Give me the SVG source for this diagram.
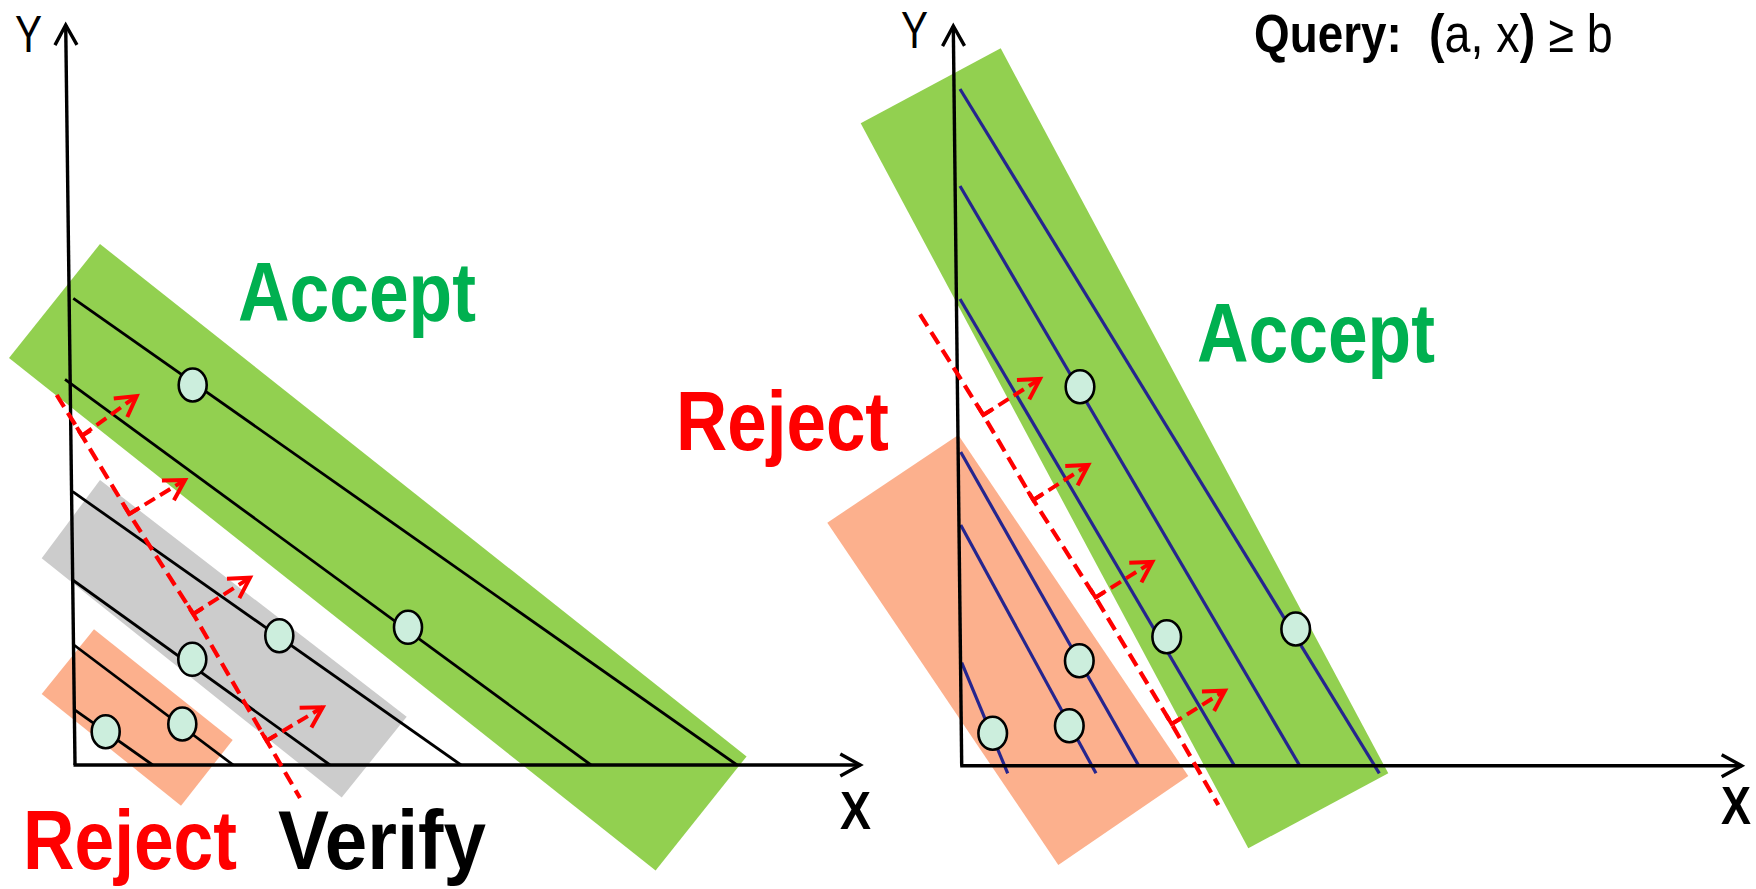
<svg xmlns="http://www.w3.org/2000/svg" width="1756" height="889" viewBox="0 0 1756 889">
  <style>
    .band-green { fill: #92D050; }
    .band-orange { fill: #FCB08D; }
    .band-gray { fill: #CCCCCC; }
    .ln { stroke: #000; stroke-width: 2.8; fill: none; }
    .bl { stroke: #25258E; stroke-width: 3.2; fill: none; }
    .axis { stroke: #000; stroke-width: 3.4; fill: none; marker-end: url(#axhead); }
    .pt { fill: #CCEEDD; stroke: #000; stroke-width: 2.6; }
    .dash { stroke: #FF0000; stroke-width: 4.2; fill: none; stroke-dasharray: 14 7; }
    .arr { stroke: #FF0000; stroke-width: 4; fill: none; stroke-dasharray: 12 6; marker-end: url(#redhead); }
    .corner { stroke: #FF0000; stroke-width: 4; fill: none; }
    .t { font-family: "Liberation Sans Narrow", "Liberation Sans", Arial, sans-serif; }
    .big { font-size: 84px; font-weight: bold; }
    .lab { font-size: 52px; }
  </style>
  <defs>
    <marker id="axhead" markerUnits="userSpaceOnUse" markerWidth="40" markerHeight="40" viewBox="-30 -20 40 40" refX="0" refY="0" orient="auto">
      <path d="M-20,-11 L0,0 L-20,11" fill="none" stroke="#000" stroke-width="3.4"/>
    </marker>
    <marker id="redhead" markerUnits="userSpaceOnUse" markerWidth="40" markerHeight="40" viewBox="-30 -20 40 40" refX="0" refY="0" orient="auto">
      <path d="M-20,-11.5 L0,0 L-20,11.5" fill="none" stroke="#FF0000" stroke-width="4" stroke-dasharray="none"/>
    </marker>
  </defs>

  <!-- ===== Left panel ===== -->
  <g id="left-accept-band"><polygon class="band-green" points="100,244 746.6,756.4 655.6,870.4 9,358"/></g>
  <g id="left-verify-band"><polygon class="band-gray" points="100,480 406.7,716.7 341.7,797.5 41.7,558.3"/></g>
  <g id="left-reject-band"><polygon class="band-orange" points="94,629.3 232.7,740 181,805.7 41.7,694"/></g>

  <g id="left-lines">
    <line class="ln" x1="73.3" y1="298.3" x2="737" y2="765"/>
    <line class="ln" x1="65" y1="379.3" x2="591" y2="765"/>
    <line class="ln" x1="72.7" y1="491.7" x2="461" y2="765"/>
    <line class="ln" x1="72.7" y1="580" x2="330" y2="765"/>
    <line class="ln" x1="74" y1="645" x2="233.3" y2="765"/>
    <line class="ln" x1="74" y1="709.3" x2="152.7" y2="765"/>
  </g>

  <g id="left-axes">
    <line class="axis" x1="75" y1="765" x2="65.7" y2="25"/>
    <line class="axis" x1="73.5" y1="765" x2="860.3" y2="765"/>
  </g>

  <g id="left-points">
    <ellipse class="pt" cx="192.7" cy="385" rx="14" ry="16.5"/>
    <ellipse class="pt" cx="408" cy="627.3" rx="14" ry="16.5"/>
    <ellipse class="pt" cx="279.3" cy="635.7" rx="14" ry="16.5"/>
    <ellipse class="pt" cx="192.3" cy="659.3" rx="14" ry="16.5"/>
    <ellipse class="pt" cx="182.3" cy="724" rx="14" ry="16.5"/>
    <ellipse class="pt" cx="105.7" cy="731.7" rx="14" ry="16.5"/>
  </g>

  <g id="left-connectors">
    <polyline class="dash" points="56.7,395 82,435.7 129.3,514 193.3,614 266.7,740.7 300,798"/>
    <path class="corner" d="M76.8,427.2 L82,435.7 L90.6,430.5"/>
    <line class="arr" x1="82" y1="435.7" x2="136.7" y2="396"/>
    <path class="corner" d="M124.1,505.5 L129.3,514 L137.9,508.8"/>
    <line class="arr" x1="129.3" y1="514" x2="185" y2="480"/>
    <path class="corner" d="M188.1,605.5 L193.3,614 L201.9,608.8"/>
    <line class="arr" x1="193.3" y1="614" x2="250" y2="577.7"/>
    <path class="corner" d="M261.5,732.2 L266.7,740.7 L275.3,735.5"/>
    <line class="arr" x1="266.7" y1="740.7" x2="322.7" y2="707.3"/>
  </g>

  <g id="left-labels" class="t">
    <text class="lab" x="15" y="52.3" textLength="27" lengthAdjust="spacingAndGlyphs">Y</text>
    <text x="840" y="829" font-size="54" font-weight="bold" textLength="31" lengthAdjust="spacingAndGlyphs">X</text>
    <text class="big" x="238" y="321" fill="#00B050" font-size="85" textLength="238" lengthAdjust="spacingAndGlyphs">Accept</text>
    <text class="big" x="23" y="869.3" fill="#FF0000" textLength="214" lengthAdjust="spacingAndGlyphs">Reject</text>
    <text class="big" x="278" y="869.3" fill="#000" textLength="208" lengthAdjust="spacingAndGlyphs">Verify</text>
  </g>

  <!-- ===== Right panel ===== -->
  <g id="right-accept-band"><polygon class="band-green" points="1000.7,48.3 1388.3,773.3 1248.3,848.3 860.7,123.3"/></g>
  <g id="right-reject-band"><polygon class="band-orange" points="958.3,435 1188.3,776 1058.3,865 827.3,522.7"/></g>

  <g id="right-lines">
    <line class="bl" x1="960" y1="89" x2="1379.3" y2="773.3"/>
    <line class="bl" x1="960" y1="186" x2="1299.3" y2="765"/>
    <line class="bl" x1="960" y1="299" x2="1234" y2="765"/>
    <line class="bl" x1="960.7" y1="452" x2="1138.3" y2="765"/>
    <line class="bl" x1="960.7" y1="525" x2="1096" y2="773.3"/>
    <line class="bl" x1="961.7" y1="662.7" x2="1007.7" y2="773.3"/>
  </g>

  <g id="right-axes">
    <line class="axis" x1="961.7" y1="765.7" x2="953.3" y2="26"/>
    <line class="axis" x1="960.2" y1="765.7" x2="1741.7" y2="765.7"/>
  </g>

  <g id="right-points">
    <ellipse class="pt" cx="1080" cy="386.7" rx="14.3" ry="16.5"/>
    <ellipse class="pt" cx="1166.7" cy="636.7" rx="14.3" ry="16.5"/>
    <ellipse class="pt" cx="1295.7" cy="629" rx="14.3" ry="16.5"/>
    <ellipse class="pt" cx="1079.3" cy="660.7" rx="14.3" ry="16.5"/>
    <ellipse class="pt" cx="1069.3" cy="725.7" rx="14.3" ry="16.5"/>
    <ellipse class="pt" cx="992.7" cy="733.3" rx="14.3" ry="16.5"/>
  </g>

  <g id="right-connectors">
    <polyline class="dash" points="920,314.3 983.3,415 1033.3,500 1095.5,597.5 1171.7,724 1218.3,805"/>
    <path class="corner" d="M978.1,406.5 L983.3,415 L991.8,409.8"/>
    <line class="arr" x1="983.3" y1="415" x2="1040" y2="379"/>
    <path class="corner" d="M1028.1,491.5 L1033.3,500 L1041.8,494.8"/>
    <line class="arr" x1="1033.3" y1="500" x2="1088.3" y2="465"/>
    <path class="corner" d="M1090.3,589 L1095.5,597.5 L1104,592.3"/>
    <line class="arr" x1="1095.5" y1="597.5" x2="1152.3" y2="562"/>
    <path class="corner" d="M1166.5,715.5 L1171.7,724 L1180.2,718.8"/>
    <line class="arr" x1="1171.7" y1="724" x2="1225" y2="690.7"/>
  </g>

  <g id="right-labels" class="t">
    <text class="lab" x="901" y="48.3" textLength="27" lengthAdjust="spacingAndGlyphs">Y</text>
    <text x="1721" y="824" font-size="54" font-weight="bold" textLength="30" lengthAdjust="spacingAndGlyphs">X</text>
    <text class="big" x="1197" y="361.7" fill="#00B050" font-size="85" textLength="238" lengthAdjust="spacingAndGlyphs">Accept</text>
    <text class="big" x="676" y="450.4" fill="#FF0000" textLength="213" lengthAdjust="spacingAndGlyphs">Reject</text>
  </g>

  <g id="query" class="t" font-size="53">
    <text transform="translate(1254,51.7) scale(0.865,1)" x="0" y="0" font-weight="bold">Query:</text>
    <text transform="translate(1429,51.7) scale(0.88,1)" x="0" y="0"><tspan font-weight="bold">(</tspan>a, x<tspan font-weight="bold">)</tspan> ≥ b</text>
  </g>
</svg>
